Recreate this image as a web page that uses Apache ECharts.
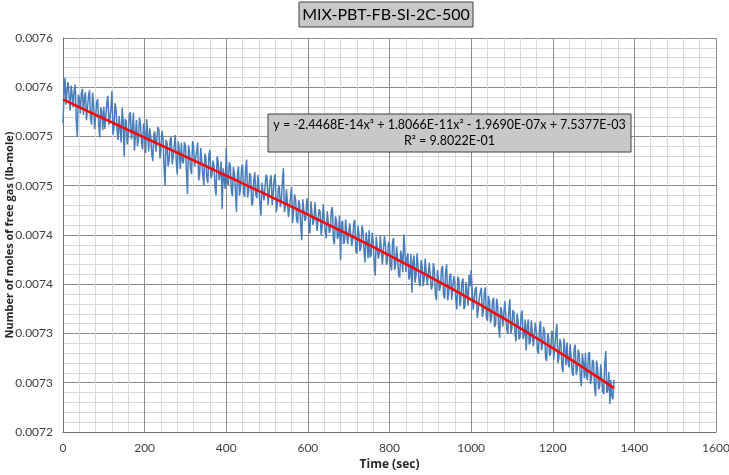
<!DOCTYPE html>
<html>
<head>
<meta charset="utf-8">
<script src="https://cdn.jsdelivr.net/npm/echarts@6/dist/echarts.min.js"></script>
<style>
html,body{margin:0;padding:0;background:#fff;}
#chart{width:729px;height:475px;}
</style>
</head>
<body>
<div id="chart"></div>
<script>
// ---- Data ----
const chartTitle = 'MIX-PBT-FB-SI-2C-500';
const xAxisName = 'Time (sec)';
const yAxisName = 'Number of moles of free gas (lb-mole)';
const equationText = 'y = -2.4468E-14x³ + 1.8066E-11x² - 1.9690E-07x + 7.5377E-03\nR² = 9.8022E-01';

// measured series: time (sec)
const timeSec = [
  0,2.5,5,7.5,10,12.5,15,17.5,20,22.5,25,27.5,30,32.5,35,37.5,40,42.5,45,47.5,
  50,52.5,55,57.5,60,62.5,65,67.5,70,72.5,75,77.5,80,82.5,85,87.5,90,92.5,95,97.5,
  100,102.5,105,107.5,110,112.5,115,117.5,120,122.5,125,127.5,130,132.5,135,137.5,140,142.5,145,147.5,
  150,152.5,155,157.5,160,162.5,165,167.5,170,172.5,175,177.5,180,182.5,185,187.5,190,192.5,195,197.5,
  200,202.5,205,207.5,210,212.5,215,217.5,220,222.5,225,227.5,230,232.5,235,237.5,240,242.5,245,247.5,
  250,252.5,255,257.5,260,262.5,265,267.5,270,272.5,275,277.5,280,282.5,285,287.5,290,292.5,295,297.5,
  300,302.5,305,307.5,310,312.5,315,317.5,320,322.5,325,327.5,330,332.5,335,337.5,340,342.5,345,347.5,
  350,352.5,355,357.5,360,362.5,365,367.5,370,372.5,375,377.5,380,382.5,385,387.5,390,392.5,395,397.5,
  400,402.5,405,407.5,410,412.5,415,417.5,420,422.5,425,427.5,430,432.5,435,437.5,440,442.5,445,447.5,
  450,452.5,455,457.5,460,462.5,465,467.5,470,472.5,475,477.5,480,482.5,485,487.5,490,492.5,495,497.5,
  500,502.5,505,507.5,510,512.5,515,517.5,520,522.5,525,527.5,530,532.5,535,537.5,540,542.5,545,547.5,
  550,552.5,555,557.5,560,562.5,565,567.5,570,572.5,575,577.5,580,582.5,585,587.5,590,592.5,595,597.5,
  600,602.5,605,607.5,610,612.5,615,617.5,620,622.5,625,627.5,630,632.5,635,637.5,640,642.5,645,647.5,
  650,652.5,655,657.5,660,662.5,665,667.5,670,672.5,675,677.5,680,682.5,685,687.5,690,692.5,695,697.5,
  700,702.5,705,707.5,710,712.5,715,717.5,720,722.5,725,727.5,730,732.5,735,737.5,740,742.5,745,747.5,
  750,752.5,755,757.5,760,762.5,765,767.5,770,772.5,775,777.5,780,782.5,785,787.5,790,792.5,795,797.5,
  800,802.5,805,807.5,810,812.5,815,817.5,820,822.5,825,827.5,830,832.5,835,837.5,840,842.5,845,847.5,
  850,852.5,855,857.5,860,862.5,865,867.5,870,872.5,875,877.5,880,882.5,885,887.5,890,892.5,895,897.5,
  900,902.5,905,907.5,910,912.5,915,917.5,920,922.5,925,927.5,930,932.5,935,937.5,940,942.5,945,947.5,
  950,952.5,955,957.5,960,962.5,965,967.5,970,972.5,975,977.5,980,982.5,985,987.5,990,992.5,995,997.5,
  1000,1002.5,1005,1007.5,1010,1012.5,1015,1017.5,1020,1022.5,1025,1027.5,1030,1032.5,1035,1037.5,1040,1042.5,1045,1047.5,
  1050,1052.5,1055,1057.5,1060,1062.5,1065,1067.5,1070,1072.5,1075,1077.5,1080,1082.5,1085,1087.5,1090,1092.5,1095,1097.5,
  1100,1102.5,1105,1107.5,1110,1112.5,1115,1117.5,1120,1122.5,1125,1127.5,1130,1132.5,1135,1137.5,1140,1142.5,1145,1147.5,
  1150,1152.5,1155,1157.5,1160,1162.5,1165,1167.5,1170,1172.5,1175,1177.5,1180,1182.5,1185,1187.5,1190,1192.5,1195,1197.5,
  1200,1202.5,1205,1207.5,1210,1212.5,1215,1217.5,1220,1222.5,1225,1227.5,1230,1232.5,1235,1237.5,1240,1242.5,1245,1247.5,
  1250,1252.5,1255,1257.5,1260,1262.5,1265,1267.5,1270,1272.5,1275,1277.5,1280,1282.5,1285,1287.5,1290,1292.5,1295,1297.5,
  1300,1302.5,1305,1307.5,1310,1312.5,1315,1317.5,1320,1322.5,1325,1327.5,1330,1332.5,1335,1337.5,1340,1342.5,1345,1347.5,1350
];
// measured series: moles of free gas (lb-mole)
const freeGasMoles = [
  0.0075137,0.0075432,0.0075597,0.0075322,0.0075477,0.0075552,0.0075408,0.0075263,0.0075518,0.0075423,0.0075298,0.0075473,0.0075528,0.0075163,0.0074998,0.0075423,0.0075388,0.0075233,0.0075439,0.0075484,
  0.0075219,0.0075394,0.0075449,0.0075164,0.0075299,0.0075404,0.0075470,0.0075185,0.0075120,0.0075445,0.0075330,0.0075075,0.0075200,0.0075345,0.0075381,0.0075126,0.0074991,0.0075296,0.0075251,0.0075066,
  0.0075302,0.0075077,0.0075082,0.0075347,0.0075413,0.0075118,0.0075183,0.0075288,0.0075463,0.0075018,0.0075094,0.0075339,0.0075284,0.0075059,0.0074964,0.0075209,0.0075194,0.0074939,0.0075295,0.0075150,
  0.0074795,0.0075180,0.0075155,0.0074920,0.0075006,0.0075221,0.0075246,0.0074971,0.0075056,0.0075241,0.0074857,0.0075012,0.0075167,0.0074902,0.0074977,0.0075192,0.0075118,0.0074933,0.0074868,0.0075133,
  0.0075048,0.0074833,0.0075178,0.0075033,0.0074849,0.0075084,0.0074999,0.0074824,0.0074750,0.0075025,0.0075050,0.0074845,0.0074860,0.0075095,0.0075071,0.0074776,0.0074881,0.0075056,0.0074992,0.0074697,
  0.0074502,0.0074967,0.0074932,0.0074697,0.0074753,0.0074968,0.0074993,0.0074718,0.0074794,0.0074909,0.0075014,0.0074749,0.0074614,0.0074949,0.0074845,0.0074670,0.0074935,0.0074750,0.0074726,0.0074941,
  0.0074906,0.0074641,0.0074416,0.0074911,0.0074837,0.0074672,0.0074617,0.0074952,0.0074898,0.0074693,0.0074708,0.0074853,0.0074938,0.0074553,0.0074629,0.0074884,0.0074749,0.0074614,0.0074500,0.0074825,
  0.0074790,0.0074575,0.0074530,0.0074815,0.0074861,0.0074576,0.0074611,0.0074756,0.0074701,0.0074486,0.0074402,0.0074797,0.0074752,0.0074557,0.0074612,0.0074747,0.0074262,0.0074677,0.0074683,0.0074468,
  0.0074883,0.0074538,0.0074503,0.0074738,0.0074703,0.0074448,0.0074394,0.0074689,0.0074624,0.0074449,0.0074234,0.0074629,0.0074694,0.0074399,0.0074484,0.0074679,0.0074715,0.0074430,0.0074385,0.0074680,
  0.0074765,0.0074380,0.0074455,0.0074630,0.0074595,0.0074300,0.0074326,0.0074561,0.0074636,0.0074401,0.0074376,0.0074611,0.0074486,0.0074311,0.0074196,0.0074531,0.0074527,0.0074352,0.0074357,0.0074612,
  0.0074587,0.0074302,0.0074307,0.0074552,0.0074607,0.0074302,0.0074417,0.0074572,0.0074617,0.0074232,0.0074298,0.0074473,0.0074498,0.0074283,0.0074348,0.0074543,0.0074678,0.0074233,0.0074288,0.0074463,
  0.0074468,0.0074183,0.0074188,0.0074383,0.0074488,0.0074123,0.0074248,0.0074413,0.0074358,0.0074153,0.0074118,0.0074353,0.0074308,0.0074093,0.0073948,0.0074363,0.0074348,0.0074143,0.0074168,0.0074373,
  0.0074278,0.0074073,0.0074018,0.0074343,0.0074338,0.0074103,0.0074157,0.0074332,0.0074337,0.0074042,0.0074037,0.0074262,0.0074237,0.0074002,0.0074077,0.0074312,0.0074316,0.0074031,0.0073966,0.0074241,
  0.0074226,0.0074021,0.0074056,0.0074251,0.0074285,0.0073950,0.0073905,0.0074190,0.0074145,0.0073960,0.0073994,0.0074199,0.0073744,0.0074119,0.0074144,0.0073909,0.0073933,0.0074158,0.0074173,0.0073908,
  0.0073893,0.0074118,0.0074133,0.0073888,0.0073962,0.0074127,0.0074152,0.0073837,0.0073811,0.0074096,0.0074011,0.0073836,0.0073871,0.0074096,0.0074050,0.0073835,0.0073720,0.0074025,0.0073939,0.0073764,
  0.0074049,0.0073773,0.0073798,0.0074022,0.0073937,0.0073712,0.0073587,0.0073981,0.0073986,0.0073760,0.0073815,0.0073990,0.0074005,0.0073699,0.0073704,0.0073988,0.0073903,0.0073698,0.0073743,0.0073927,
  0.0073902,0.0073696,0.0073641,0.0073935,0.0073970,0.0073645,0.0073710,0.0073884,0.0073889,0.0073593,0.0073568,0.0073842,0.0073787,0.0073621,0.0074006,0.0073851,0.0073626,0.0073760,0.0073815,0.0073549,
  0.0073584,0.0073808,0.0073413,0.0073727,0.0073792,0.0073516,0.0073591,0.0073815,0.0073820,0.0073524,0.0073478,0.0073743,0.0073687,0.0073482,0.0073555,0.0073761,0.0073745,0.0073490,0.0073474,0.0073718,
  0.0073733,0.0073447,0.0073482,0.0073716,0.0073640,0.0073395,0.0073339,0.0073643,0.0073648,0.0073432,0.0073486,0.0073661,0.0073685,0.0073389,0.0073354,0.0073618,0.0073703,0.0073337,0.0073411,0.0073585,
  0.0073610,0.0073344,0.0073328,0.0073583,0.0073517,0.0073341,0.0073245,0.0073579,0.0073544,0.0073278,0.0073352,0.0073516,0.0073560,0.0073245,0.0073279,0.0073523,0.0073427,0.0073282,0.0073596,0.0073480,
  0.0073644,0.0073458,0.0073242,0.0073226,0.0073450,0.0073474,0.0073158,0.0073242,0.0073356,0.0073420,0.0073464,0.0073169,0.0073233,0.0073417,0.0073469,0.0073165,0.0073129,0.0073383,0.0073327,0.0073111,
  0.0073165,0.0073329,0.0073363,0.0073067,0.0073091,0.0073355,0.0073289,0.0073063,0.0072957,0.0073271,0.0073225,0.0073069,0.0073072,0.0073326,0.0073310,0.0073034,0.0072998,0.0073252,0.0073346,0.0073000,
  0.0073054,0.0073238,0.0073212,0.0072985,0.0072919,0.0073203,0.0073137,0.0072940,0.0072964,0.0073198,0.0073232,0.0072945,0.0072989,0.0073143,0.0072827,0.0073070,0.0073144,0.0072888,0.0072922,0.0073135,
  0.0073139,0.0072872,0.0072866,0.0073110,0.0073014,0.0072827,0.0072791,0.0073064,0.0073128,0.0072831,0.0072885,0.0073069,0.0073013,0.0072756,0.0072720,0.0073003,0.0072957,0.0072771,0.0072805,0.0073028,
  0.0072992,0.0072735,0.0072719,0.0072992,0.0073096,0.0072699,0.0072752,0.0072946,0.0072899,0.0072662,0.0072606,0.0072949,0.0072833,0.0072676,0.0072910,0.0072713,0.0072656,0.0072890,0.0072763,0.0072606,
  0.0072570,0.0072843,0.0072887,0.0072580,0.0072633,0.0072836,0.0072790,0.0072563,0.0072466,0.0072799,0.0072703,0.0072546,0.0072799,0.0072572,0.0072526,0.0072789,0.0072812,0.0072485,0.0072549,0.0072732,
  0.0072705,0.0072448,0.0072361,0.0072724,0.0072647,0.0072430,0.0072463,0.0072686,0.0072699,0.0072412,0.0072385,0.0072708,0.0072822,0.0072395,0.0072428,0.0072611,0.0072284,0.0072527,0.0072360,0.0072333,0.0072530
];
// red trend line
const trendTime = [0,50,100,150,200,250,300,350,400,450,500,550,600,650,700,750,800,850,900,950,1000,1050,1100,1150,1200,1250,1300,1350];
const trendMoles = [
  0.0075377,0.0075279,0.0075182,0.0075085,0.0074988,0.0074892,0.0074796,0.0074700,0.0074603,0.0074505,
  0.0074407,0.0074308,0.0074208,0.0074106,0.0074003,0.0073899,0.0073792,0.0073684,0.0073573,0.0073460,
  0.0073344,0.0073225,0.0073104,0.0072979,0.0072852,0.0072720,0.0072585,0.0072446
];
// axis settings
const xMin = 0, xMax = 1600, xStep = 200;
const yMin = 0.0072, yMax = 0.0076, yStep = 0.00005;

const measured = timeSec.map((t, i) => [t, freeGasMoles[i]]);
const trend = trendTime.map((t, i) => [t, trendMoles[i]]);

const FONT = 'Lato';
const BOLD_FONT = 'Open Sans';
const chart = echarts.init(document.getElementById('chart'), null, {renderer: 'canvas'});
chart.setOption({
  animation: false,
  backgroundColor: '#ffffff',
  grid: {left: 63, right: 13, top: 38, bottom: 43, containLabel: false, outerBoundsMode: 'none'},
  xAxis: {
    type: 'value', min: xMin, max: xMax, interval: xStep,
    name: xAxisName, nameLocation: 'middle', nameGap: 27, nameMoveOverlap: false,
    nameTextStyle: {fontFamily: BOLD_FONT, fontWeight: 'bold', fontSize: 12, color: '#262626'},
    axisLine: {show: true, onZero: false, lineStyle: {color: '#6f6f6f', width: 1}},
    axisTick: {show: false},
    axisLabel: {fontFamily: FONT, fontSize: 12, color: '#404040', margin: 10, formatter: v => String(v)},
    splitLine: {show: true, lineStyle: {color: '#8c8c8c', width: 1}},
    minorTick: {show: false, splitNumber: 5},
    minorSplitLine: {show: true, lineStyle: {color: '#d9d9d9', width: 1}}
  },
  yAxis: {
    type: 'value', min: yMin, max: yMax, interval: yStep,
    name: yAxisName, nameLocation: 'middle', nameGap: 48, nameMoveOverlap: false,
    nameTextStyle: {fontFamily: BOLD_FONT, fontWeight: 'bold', fontSize: 11, color: '#262626'},
    axisLine: {show: true, lineStyle: {color: '#6f6f6f', width: 1}},
    axisTick: {show: false},
    axisLabel: {
      fontFamily: FONT, fontSize: 12, color: '#404040', margin: 10,
      formatter: v => (Math.round(Math.round(v * 1e5) / 10) / 1e4).toFixed(4)
    },
    splitLine: {show: true, lineStyle: {color: '#8c8c8c', width: 1}},
    minorTick: {show: false, splitNumber: 5},
    minorSplitLine: {show: true, lineStyle: {color: '#d9d9d9', width: 1}}
  },
  series: [
    {
      type: 'line', data: measured, showSymbol: false, symbol: 'none',
      lineStyle: {color: '#4a7ebb', width: 1.5}, z: 2
    },
    {
      type: 'line', data: trend, showSymbol: false, symbol: 'none', smooth: true,
      lineStyle: {color: '#ff0000', width: 2.5}, z: 3
    }
  ],
  graphic: [
    {type: 'rect', z: 100,
     shape: {x: 299, y: 2, width: 174, height: 25},
     style: {fill: '#c8c8c8', stroke: '#404040', lineWidth: 1}},
    {type: 'text', z: 101, x: 386, y: 15,
     style: {text: chartTitle, fontFamily: FONT, fontSize: 16, fill: '#000000',
             align: 'center', verticalAlign: 'middle'}},
    {type: 'rect', z: 100,
     shape: {x: 268, y: 114, width: 363, height: 38},
     style: {fill: '#c8c8c8', stroke: '#404040', lineWidth: 1}},
    {type: 'text', z: 101, x: 449.5, y: 133,
     style: {text: equationText, fontFamily: FONT, fontSize: 12.5, lineHeight: 16, fill: '#000000',
             align: 'center', verticalAlign: 'middle'}}
  ]
});
</script>
</body>
</html>
